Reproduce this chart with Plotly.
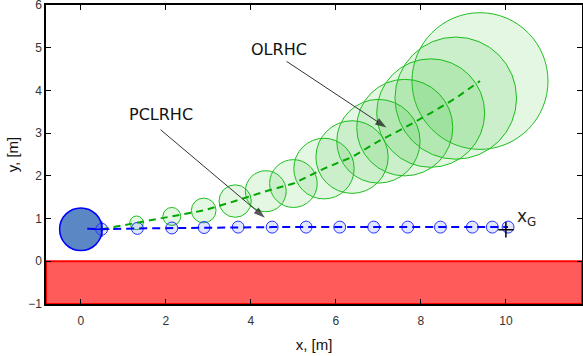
import plotly.graph_objects as go

# ---- data ----
obstacle_x = [0.0]
obstacle_y = [0.75]
obstacle_r = [0.5]

blue_x = [0.49, 1.33, 2.14, 2.90, 3.70, 4.50, 5.30, 6.09, 6.89, 7.69, 8.46, 9.21, 9.68, 10.05]
blue_y = [0.75, 0.77, 0.78, 0.79, 0.80, 0.80, 0.80, 0.80, 0.80, 0.80, 0.80, 0.80, 0.80, 0.80]
blue_r = [0.14] * 14
blue_line_start = (0.15, 0.76)

green_x = [0.49, 1.31, 2.14, 2.89, 3.63, 4.35, 5.00, 5.72, 6.38, 7.00, 7.62, 8.23, 8.82, 9.39]
green_y = [0.75, 0.90, 1.05, 1.19, 1.41, 1.64, 1.82, 2.17, 2.44, 2.81, 3.13, 3.47, 3.82, 4.22]
green_r = [0.00, 0.16, 0.21, 0.29, 0.38, 0.48, 0.56, 0.71, 0.85, 0.98, 1.13, 1.27, 1.43, 1.60]

goal = (10.0, 0.74)

# arrow (tail -> head) for the two labels
ol_arrow_x = [4.84, 7.19]
ol_arrow_y = [4.68, 3.13]
pc_arrow_x = [1.875, 4.33]
pc_arrow_y = [3.08, 1.02]

x_ticks = [0, 2, 4, 6, 8, 10]
y_ticks = [-1, 0, 1, 2, 3, 4, 5, 6]

fig = go.Figure()
shapes = []

# forbidden region (red)
shapes.append(dict(type="rect", xref="paper", yref="y", x0=0, x1=1, y0=-1, y1=0,
                   fillcolor="#ff5b5b", line=dict(color="#ff0000", width=2), layer="below"))

# obstacle
for cx, cy, r in zip(obstacle_x, obstacle_y, obstacle_r):
    shapes.append(dict(type="circle", xref="x", yref="y", x0=cx - r, x1=cx + r, y0=cy - r, y1=cy + r,
                       fillcolor="#5c87c5", line=dict(color="#0000ff", width=1.5), layer="below"))

# green (OLRHC) uncertainty circles
for cx, cy, r in zip(green_x, green_y, green_r):
    if r <= 0:
        continue
    shapes.append(dict(type="circle", xref="x", yref="y", x0=cx - r, x1=cx + r, y0=cy - r, y1=cy + r,
                       fillcolor="rgba(0,185,0,0.11)", line=dict(color="#1fbf1f", width=1), layer="below"))

# blue (PCLRHC) circles
for cx, cy, r in zip(blue_x, blue_y, blue_r):
    shapes.append(dict(type="circle", xref="x", yref="y", x0=cx - r, x1=cx + r, y0=cy - r, y1=cy + r,
                       fillcolor="rgba(40,60,255,0.13)", line=dict(color="#2233ff", width=1), layer="below"))

fig.add_trace(go.Scatter(x=green_x, y=green_y, mode="lines",
                         line=dict(color="#00a800", width=2, dash="7px,5px"), hoverinfo="skip"))
fig.add_trace(go.Scatter(x=[blue_line_start[0]] + blue_x, y=[blue_line_start[1]] + blue_y, mode="lines",
                         line=dict(color="#0000ff", width=2, dash="8px,5px"), hoverinfo="skip"))
fig.add_trace(go.Scatter(x=[blue_x[0]], y=[blue_y[0]], mode="markers",
                         marker=dict(symbol="cross-thin", size=11, line=dict(color="#0000ff", width=1.5)),
                         hoverinfo="skip"))
fig.add_trace(go.Scatter(x=[goal[0]], y=[goal[1]], mode="markers",
                         marker=dict(symbol="cross-thin", size=11, line=dict(color="#000000", width=1.5)),
                         hoverinfo="skip"))

# arrows
for ax_, ay_ in ((ol_arrow_x, ol_arrow_y), (pc_arrow_x, pc_arrow_y)):
    fig.add_trace(go.Scatter(x=ax_, y=ay_, mode="lines+markers",
                             line=dict(color="#333333", width=1),
                             marker=dict(symbol="arrow", angleref="previous", size=[0, 12],
                                         color="#111111", line=dict(width=0)),
                             hoverinfo="skip"))

annotations = [
    dict(x=4.66, y=4.96, xref="x", yref="y", text="OLRHC", showarrow=False,
         font=dict(family="DejaVu Sans", size=16, color="#111111")),
    dict(x=1.88, y=3.44, xref="x", yref="y", text="PCLRHC", showarrow=False,
         font=dict(family="DejaVu Sans", size=16, color="#111111")),
    dict(x=10.22, y=1.02, xref="x", yref="y", text="x<sub>G</sub>", showarrow=False, xanchor="left",
         font=dict(family="DejaVu Sans", size=17, color="#222222")),
]

fig.update_layout(
    width=583, height=356,
    margin=dict(l=46, r=1, t=5, b=52),
    paper_bgcolor="white", plot_bgcolor="white",
    showlegend=False,
    shapes=shapes, annotations=annotations,
    font=dict(family="Liberation Sans", size=12, color="#333333"),
)
fig.update_xaxes(range=[-0.82, 11.79], tickvals=x_ticks, showgrid=False, zeroline=False,
                 showline=True, linecolor="black", linewidth=1.5, mirror="ticks",
                 ticks="inside", ticklen=5, tickcolor="black", automargin=False,
                 ticklabeloverflow="allow", ticklabelstandoff=5,
                 title=dict(text="x, [m]", font=dict(size=15, color="#111111"), standoff=12))
fig.update_yaxes(range=[-1, 6], tickvals=y_ticks, showgrid=False, zeroline=False,
                 showline=True, linecolor="black", linewidth=1.5, mirror="ticks",
                 ticks="inside", ticklen=5, tickcolor="black", automargin=False,
                 ticklabeloverflow="allow",
                 title=dict(text="y, [m]", font=dict(size=15, color="#111111"), standoff=6))

fig.write_html("out.html", post_script="document.body.style.margin='0px';",
               config={"displayModeBar": False})
